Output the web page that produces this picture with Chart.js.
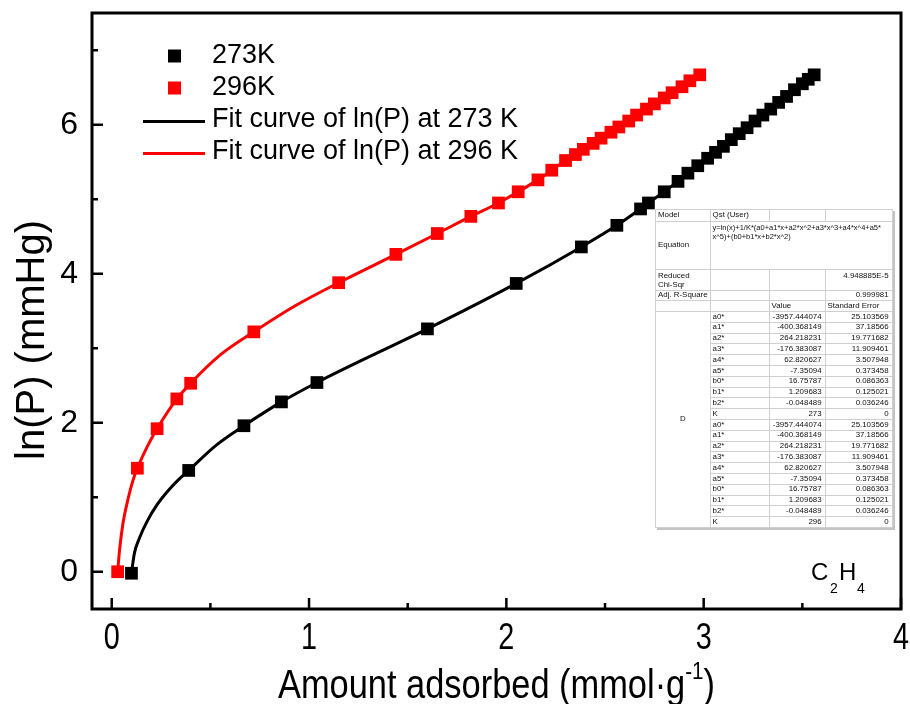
<!DOCTYPE html>
<html>
<head>
<meta charset="utf-8">
<script src="https://cdn.jsdelivr.net/npm/chart.js@4.4.1/dist/chart.umd.min.js"></script>
<style>
  html, body { margin: 0; padding: 0; background: #fff; }
  #wrap { position: relative; width: 910px; height: 704px; }
  #plot { position: absolute; left: 0; top: 0; }
  #fit {
    position: absolute; left: 655px; top: 209px;
    border-collapse: collapse; table-layout: fixed;
    background: #fff; color: #111;
    font: 7.9px "Liberation Sans", Arial, sans-serif; line-height: 8.5px;
    border: 1px solid #9a9a9a; box-shadow: 2px 2px 0 #c4c4c4;
  }
  #fit td { border: 1px solid #cfcfcf; padding: 0 2px; white-space: nowrap; overflow: hidden; }
  #fit td.n { text-align: right; padding-right: 3px; }
  #fit td.top { vertical-align: top; padding-top: 2px; }
  #fit td.eq { font-size: 7.5px; }
  #fit tr.p td { height: 9.8px; }
</style>
</head>
<body>
<div id="wrap">
  <canvas id="plot" width="910" height="704"></canvas>
  <table id="fit">
    <colgroup><col style="width:53px"><col style="width:59px"><col style="width:56px"><col style="width:67px"></colgroup>
    <tbody id="fitBody"></tbody>
  </table>
</div>
<script>
// C2H4 isotherms, ln(P) vs loading (measured points)
const x273 = [0.10, 0.39, 0.67, 0.86, 1.04, 1.60, 2.05, 2.38, 2.56, 2.68, 2.72, 2.80, 2.87, 2.92, 2.97,
  3.02, 3.06, 3.10, 3.14, 3.18, 3.22, 3.26, 3.30, 3.34, 3.38, 3.42, 3.46, 3.50, 3.53, 3.56];
const y273 = [-0.02, 1.36, 1.96, 2.28, 2.54, 3.26, 3.87, 4.36, 4.65, 4.87, 4.95, 5.10, 5.24, 5.35, 5.45,
  5.55, 5.63, 5.71, 5.80, 5.88, 5.96, 6.05, 6.13, 6.21, 6.30, 6.38, 6.47, 6.55, 6.61, 6.67];

const x296 = [0.03, 0.13, 0.23, 0.33, 0.40, 0.72, 1.15, 1.44, 1.65, 1.82, 1.96, 2.06, 2.16, 2.23, 2.30,
  2.35, 2.39, 2.44, 2.48, 2.53, 2.57, 2.62, 2.66, 2.71, 2.75, 2.80, 2.84, 2.89, 2.93, 2.98];
const y296 = [0.00, 1.39, 1.92, 2.32, 2.53, 3.22, 3.88, 4.26, 4.54, 4.77, 4.95, 5.10, 5.26, 5.39, 5.52,
  5.60, 5.67, 5.75, 5.82, 5.90, 5.97, 6.05, 6.13, 6.21, 6.28, 6.36, 6.43, 6.51, 6.59, 6.67];

// fit curves: traced points along each curve
const fit273x = [0.10, 0.115, 0.14, 0.18, 0.23, 0.29, 0.34, 0.39, 0.53, 0.67, 0.86, 1.04, 1.30, 1.60, 2.05,
  2.38, 2.56, 2.72, 2.87, 2.97, 3.10, 3.26, 3.42, 3.56];
const fit273y = [-0.02, 0.25, 0.45, 0.68, 0.90, 1.10, 1.24, 1.36, 1.70, 1.96, 2.28, 2.54, 2.88, 3.26, 3.87,
  4.36, 4.65, 4.95, 5.24, 5.45, 5.71, 6.05, 6.38, 6.67];
const fit296x = [0.03, 0.04, 0.057, 0.082, 0.108, 0.13, 0.18, 0.23, 0.33, 0.40, 0.55, 0.72, 0.93, 1.15, 1.44,
  1.65, 1.82, 1.96, 2.16, 2.30, 2.48, 2.66, 2.84, 2.98];
const fit296y = [0.00, 0.30, 0.65, 0.97, 1.23, 1.39, 1.68, 1.92, 2.32, 2.53, 2.91, 3.22, 3.57, 3.88, 4.26,
  4.54, 4.77, 4.95, 5.26, 5.52, 5.82, 6.13, 6.43, 6.67];

const xMajor = [0, 1, 2, 3, 4];
const xMinor = [0.5, 1.5, 2.5, 3.5];
const yMajor = [0, 2, 4, 6];
const yMinor = [1, 3, 5, 7];

const legendLabels = ['273K', '296K', 'Fit curve of ln(P) at 273 K', 'Fit curve of ln(P) at 296 K'];

// fit report (Origin style)
const fitModel = 'Qst (User)';
const fitEquation = ['y=ln(x)+1/K*(a0+a1*x+a2*x^2+a3*x^3+a4*x^4+a5*', 'x^5)+(b0+b1*x+b2*x^2)'];
const chiSqr = '4.948885E-5';
const adjR2 = '0.999981';
const paramNames = ['a0*', 'a1*', 'a2*', 'a3*', 'a4*', 'a5*', 'b0*', 'b1*', 'b2*', 'K'];
const paramValues = ['-3957.444074', '-400.368149', '264.218231', '-176.383087', '62.820627', '-7.35094',
  '16.75787', '1.209683', '-0.048489'];
const paramErrors = ['25.103569', '37.18566', '19.771682', '11.909461', '3.507948', '0.373458',
  '0.086363', '0.125021', '0.036246'];
const temps = ['273', '296'];

const SANS = '"Liberation Sans", Arial, sans-serif';

function pts(xs, ys) {
  return xs.map((x, i) => ({ x: x, y: ys[i] }));
}

// ---- report table ----
(function buildTable() {
  const body = document.getElementById('fitBody');
  let html = '';
  html += '<tr style="height:12px"><td>Model</td><td>' + fitModel + '</td><td></td><td></td></tr>';
  html += '<tr style="height:48px"><td>Equation</td><td colspan="3" class="top eq">' + fitEquation.join('<br>') + '</td></tr>';
  html += '<tr style="height:21px"><td class="top">Reduced<br>Chi-Sqr</td><td></td><td></td><td class="n top">' + chiSqr + '</td></tr>';
  html += '<tr style="height:10px"><td>Adj. R-Square</td><td></td><td></td><td class="n">' + adjR2 + '</td></tr>';
  html += '<tr style="height:11px"><td></td><td></td><td>Value</td><td>Standard Error</td></tr>';
  temps.forEach((t, ti) => {
    paramNames.forEach((name, i) => {
      html += '<tr class="p">';
      if (ti === 0 && i === 0) html += '<td rowspan="20" style="text-align:center">D</td>';
      const v = name === 'K' ? t : paramValues[i];
      const e = name === 'K' ? '0' : paramErrors[i];
      html += '<td>' + name + '</td><td class="n">' + v + '</td><td class="n">' + e + '</td></tr>';
    });
  });
  body.innerHTML = html;
})();

// condensed text: draw with a horizontal squeeze
function narrowText(ctx, text, x, y, size, squeeze) {
  ctx.save();
  ctx.translate(x, y);
  ctx.scale(squeeze, 1);
  ctx.font = size + 'px ' + SANS;
  ctx.fillText(text, 0, 0);
  ctx.restore();
}

function textWidth(ctx, text, size, squeeze) {
  ctx.font = size + 'px ' + SANS;
  return ctx.measureText(text).width * squeeze;
}

// ---- frame, inward ticks, x tick labels, titles, legend ----
const decor = {
  id: 'decor',
  afterDraw(chart) {
    const ctx = chart.ctx;
    const a = chart.chartArea;
    const xs = chart.scales.x, ys = chart.scales.y;
    ctx.save();
    ctx.strokeStyle = '#000';
    ctx.fillStyle = '#000';

    ctx.lineWidth = 3;
    ctx.strokeRect(a.left, a.top, a.right - a.left, a.bottom - a.top);

    ctx.lineWidth = 2.5;
    ctx.beginPath();
    xMajor.forEach(v => { const p = xs.getPixelForValue(v); ctx.moveTo(p, a.bottom); ctx.lineTo(p, a.bottom - 11); });
    xMinor.forEach(v => { const p = xs.getPixelForValue(v); ctx.moveTo(p, a.bottom); ctx.lineTo(p, a.bottom - 6); });
    yMajor.forEach(v => { const p = ys.getPixelForValue(v); ctx.moveTo(a.left, p); ctx.lineTo(a.left + 11, p); });
    yMinor.forEach(v => { const p = ys.getPixelForValue(v); ctx.moveTo(a.left, p); ctx.lineTo(a.left + 6, p); });
    ctx.stroke();

    // x tick labels, condensed
    ctx.textBaseline = 'alphabetic';
    ctx.textAlign = 'left';
    xMajor.forEach(v => {
      const p = xs.getPixelForValue(v);
      const w = textWidth(ctx, String(v), 36, 0.8);
      narrowText(ctx, String(v), p - w / 2, 649, 36, 0.8);
    });

    // x title with superscript
    const sq = 0.86;
    const base = 698;
    const main = 'Amount adsorbed (mmol\u00b7g';
    const w1 = textWidth(ctx, main, 40, sq);
    const ws = textWidth(ctx, '-1', 24, sq);
    const wp = textWidth(ctx, ')', 40, sq);
    const x0 = (a.left + a.right) / 2 - (w1 + ws + wp) / 2;
    narrowText(ctx, main, x0, base, 40, sq);
    narrowText(ctx, '-1', x0 + w1, base - 19, 24, sq);
    narrowText(ctx, ')', x0 + w1 + ws, base, 40, sq);

    // y title
    ctx.save();
    ctx.translate(44, 340);
    ctx.rotate(-Math.PI / 2);
    ctx.textAlign = 'center';
    ctx.font = '40px ' + SANS;
    ctx.fillText('ln(P) (mmHg)', 0, 0);
    ctx.restore();

    // legend
    const rows = [56, 88, 120, 152];
    const ds = chart.data.datasets;
    ctx.textBaseline = 'middle';
    ctx.textAlign = 'left';
    ctx.font = '27px ' + SANS;
    rows.forEach((ry, i) => {
      const d = ds[i];
      if (i < 2) {
        ctx.fillStyle = d.backgroundColor;
        ctx.fillRect(168, ry - 6.5, 13, 13);
      } else {
        ctx.strokeStyle = d.borderColor;
        ctx.lineWidth = 3;
        ctx.beginPath();
        ctx.moveTo(143, ry + 1.5);
        ctx.lineTo(205, ry + 1.5);
        ctx.stroke();
      }
      ctx.fillStyle = '#000';
      ctx.fillText(legendLabels[i], 212, ry);
    });

    // gas label
    ctx.textBaseline = 'alphabetic';
    ctx.font = '24px ' + SANS;
    ctx.fillText('C', 811, 580);
    ctx.fillText('H', 839, 580);
    ctx.font = '14px ' + SANS;
    ctx.fillText('2', 830, 593);
    ctx.fillText('4', 857, 593);

    ctx.restore();
  }
};

function noPad(s) {
  s.paddingTop = 0; s.paddingBottom = 0; s.paddingLeft = 0; s.paddingRight = 0;
}

new Chart(document.getElementById('plot'), {
  type: 'scatter',
  data: {
    datasets: [
      { label: legendLabels[0], data: pts(x273, y273), pointStyle: 'rect', pointRadius: 9, pointHoverRadius: 9,
        backgroundColor: '#000000', borderColor: '#000000', borderWidth: 0, order: 1 },
      { label: legendLabels[1], data: pts(x296, y296), pointStyle: 'rect', pointRadius: 9, pointHoverRadius: 9,
        backgroundColor: '#ff0000', borderColor: '#ff0000', borderWidth: 0, order: 1 },
      { label: legendLabels[2], data: pts(fit273x, fit273y), showLine: true, pointRadius: 0, borderWidth: 3,
        borderColor: '#000000', backgroundColor: '#000000', cubicInterpolationMode: 'monotone', order: 2 },
      { label: legendLabels[3], data: pts(fit296x, fit296y), showLine: true, pointRadius: 0, borderWidth: 3,
        borderColor: '#ff0000', backgroundColor: '#ff0000', cubicInterpolationMode: 'monotone', order: 2 }
    ]
  },
  options: {
    responsive: false,
    animation: false,
    devicePixelRatio: 1,
    layout: { padding: { top: 13, right: 7, left: 0, bottom: 0 } },
    plugins: { legend: { display: false }, tooltip: { enabled: false } },
    scales: {
      x: {
        type: 'linear', min: -0.1, max: 4,
        grid: { display: false, drawTicks: false },
        border: { display: false },
        ticks: { display: false },
        afterBuildTicks: s => { s.ticks = xMajor.map(v => ({ value: v })); },
        afterFit: s => { s.height = 95; noPad(s); }
      },
      y: {
        type: 'linear', min: -0.5, max: 7.5,
        grid: { display: false, drawTicks: false },
        border: { display: false },
        ticks: { color: '#000', padding: 14, font: { family: SANS, size: 32 } },
        afterBuildTicks: s => { s.ticks = yMajor.map(v => ({ value: v })); },
        afterFit: s => { s.width = 92; noPad(s); }
      }
    }
  },
  plugins: [decor]
});
</script>
</body>
</html>
